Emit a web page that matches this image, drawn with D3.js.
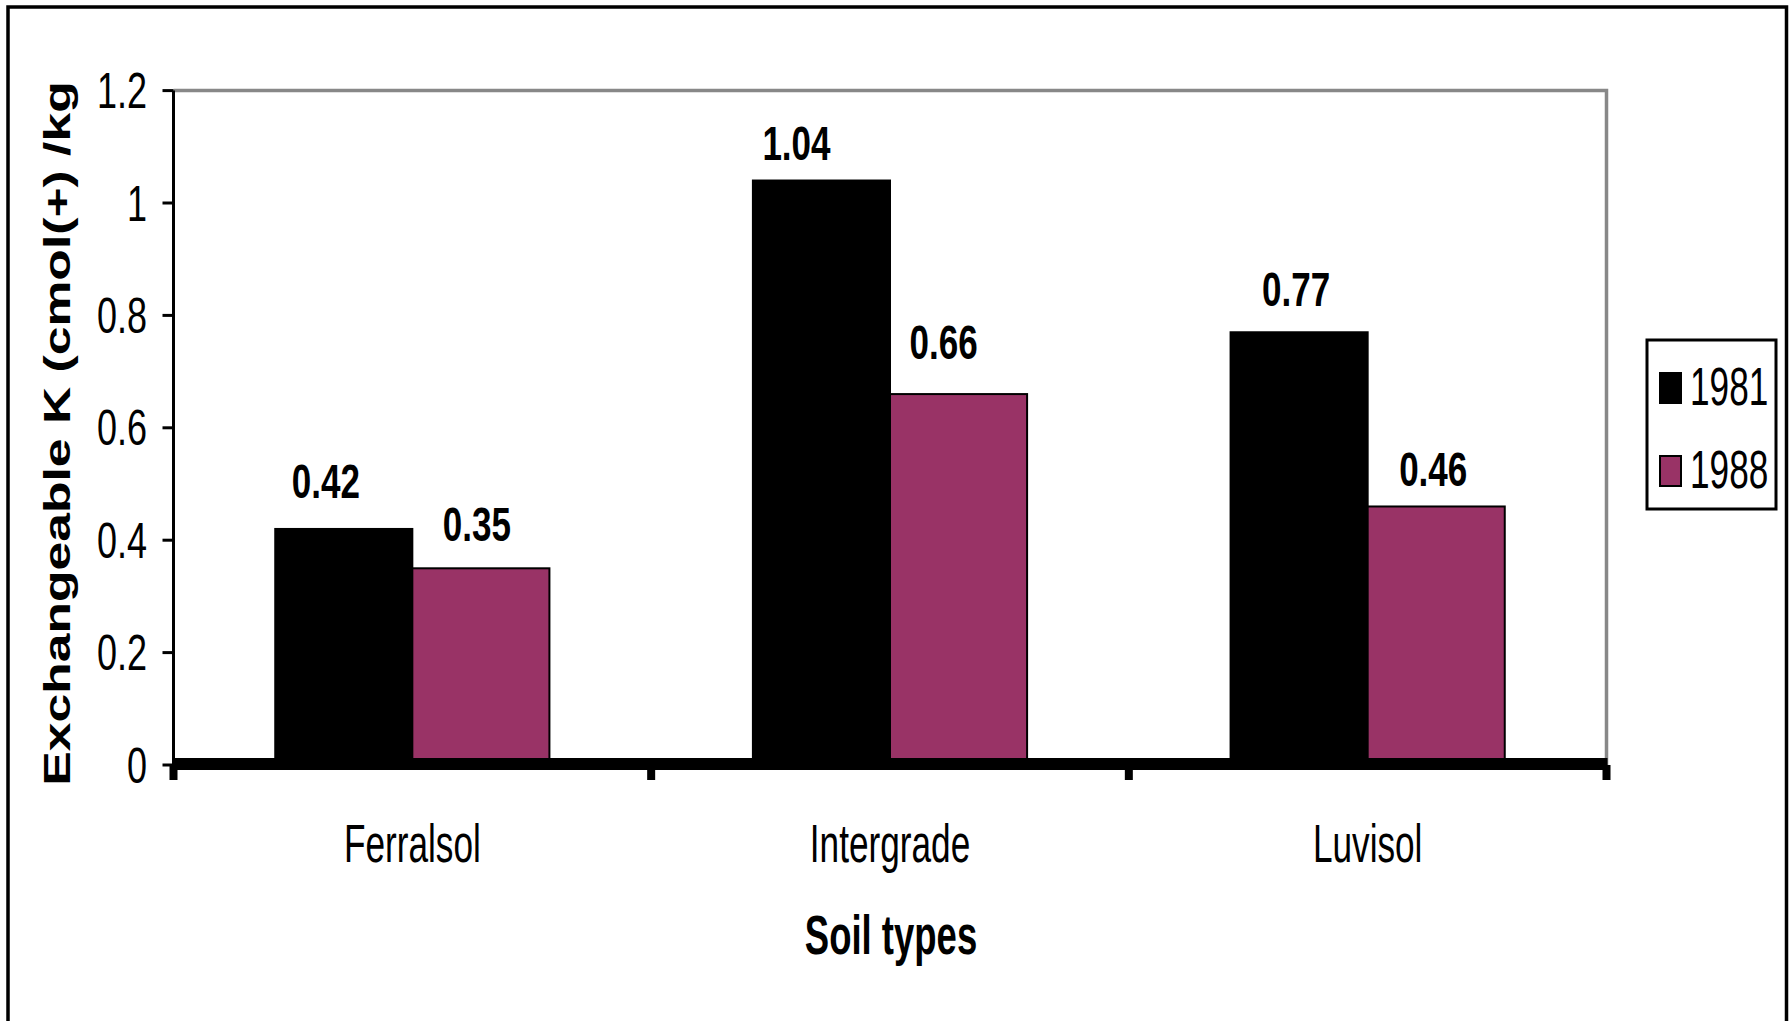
<!DOCTYPE html>
<html>
<head>
<meta charset="utf-8">
<script src="https://cdn.jsdelivr.net/npm/d3@7"></script>
<style>
  html, body { margin: 0; padding: 0; background: #fff; }
  svg { display: block; }
  text { font-family: "Liberation Sans", Arial, sans-serif; fill: #000; }
</style>
</head>
<body>
<svg id="chart" width="1790" height="1021"></svg>
<script>
// Exchangeable K by soil type, two survey years
const categories = ["Ferralsol", "Intergrade", "Luvisol"];
const seriesNames = ["1981", "1988"];
const values1981 = [0.42, 1.04, 0.77];
const values1988 = [0.35, 0.66, 0.46];
const yTickValues = [0, 0.2, 0.4, 0.6, 0.8, 1, 1.2];
const yTickLabels = ["0", "0.2", "0.4", "0.6", "0.8", "1", "1.2"];
const yTitle = "Exchangeable K (cmol(+) /kg";
const xTitle = "Soil types";

// label nudges [dx, gap above bar] per category, per series
const labelNudge = [
  [[-18, 31], [-4, 27]],
  [[-25, 21], [-15, 35]],
  [[-3, 26], [-3, 20]]
];

const colors = { "1981": "#000000", "1988": "#993366" };
const FS = 35.2;

const svg = d3.select("#chart");

const plot = { left: 173.5, right: 1606.5, top: 90.6, bottom: 765 };

const x0 = d3.scaleBand()
  .domain(categories)
  .range([plot.left, plot.right])
  .paddingInner(0.426)
  .paddingOuter(0.213);
const x1 = d3.scaleBand()
  .domain(seriesNames)
  .range([0, x0.bandwidth()])
  .padding(0);
const y = d3.scaleLinear().domain([0, 1.2]).range([plot.bottom, plot.top]);

const rows = categories.map((c, i) => ({
  cat: c, idx: i,
  vals: [
    { key: "1981", v: values1981[i] },
    { key: "1988", v: values1988[i] }
  ]
}));

// outer frame
svg.append("rect")
  .attr("x", 8).attr("y", 7)
  .attr("width", 1778.5).attr("height", 1040)
  .attr("fill", "none").attr("stroke", "#000").attr("stroke-width", 3.5);

// plot area top and right edges
svg.append("path")
  .attr("d", `M${plot.left},${y(1.2)}H${plot.right}V${plot.bottom}`)
  .attr("fill", "none").attr("stroke", "#888").attr("stroke-width", 3.5);

// bars
const groups = svg.selectAll("g.cat").data(rows).join("g")
  .attr("class", "cat")
  .attr("transform", d => `translate(${x0(d.cat)},0)`);

groups.selectAll("rect").data(d => d.vals).join("rect")
  .attr("x", d => x1(d.key))
  .attr("y", d => y(d.v))
  .attr("width", x1.bandwidth())
  .attr("height", d => y(0) - y(d.v))
  .attr("fill", d => colors[d.key])
  .attr("stroke", "#000").attr("stroke-width", 2);

// value labels
groups.selectAll("text.val").data(d => d.vals.map((s, j) => ({ ...s, n: labelNudge[d.idx][j] })))
  .join("text")
  .attr("class", "val")
  .attr("text-anchor", "middle")
  .attr("font-size", 35)
  .attr("font-weight", "bold")
  .attr("transform", d => `translate(${x1(d.key) + x1.bandwidth() / 2 + d.n[0]},${y(d.v) - d.n[1]}) scale(1,1.40)`)
  .text(d => d.v.toFixed(2));

// y axis line and ticks
svg.append("line")
  .attr("x1", plot.left).attr("x2", plot.left)
  .attr("y1", y(1.2)).attr("y2", plot.bottom)
  .attr("stroke", "#000").attr("stroke-width", 3);

svg.selectAll("line.ytick").data(yTickValues).join("line")
  .attr("class", "ytick")
  .attr("x1", plot.left - 11).attr("x2", plot.left)
  .attr("y1", d => y(d)).attr("y2", d => y(d))
  .attr("stroke", "#000").attr("stroke-width", 3);

svg.selectAll("text.ytl").data(yTickValues).join("text")
  .attr("class", "ytl")
  .attr("text-anchor", "end")
  .attr("font-size", 36)
  .attr("transform", d => `translate(147,${y(d) + 17.5}) scale(1,1.37)`)
  .text((d, i) => yTickLabels[i]);

// x axis: heavy baseline with category separators
svg.append("line")
  .attr("x1", plot.left - 1).attr("x2", plot.right + 1)
  .attr("y1", y(0) - 1).attr("y2", y(0) - 1)
  .attr("stroke", "#000").attr("stroke-width", 12);

const bounds = d3.range(categories.length + 1).map(i => plot.left + i * x0.step());
svg.selectAll("rect.xtick").data(bounds).join("rect")
  .attr("class", "xtick")
  .attr("x", d => d - 4).attr("y", y(0))
  .attr("width", 8).attr("height", 15)
  .attr("fill", "#000");

svg.selectAll("text.xtl").data(categories).join("text")
  .attr("class", "xtl")
  .attr("text-anchor", "middle")
  .attr("font-size", FS)
  .attr("transform", d => `translate(${x0(d) + x0.bandwidth() / 2},862) scale(1,1.5)`)
  .text(d => d);

// axis titles
svg.append("text")
  .attr("text-anchor", "middle")
  .attr("font-size", 36.5)
  .attr("font-weight", "bold")
  .attr("transform", `translate(${(x0(categories[1]) + x0.bandwidth() / 2 + 1)},954) scale(1,1.5)`)
  .text(xTitle);

svg.append("text")
  .attr("text-anchor", "middle")
  .attr("font-size", 37.7)
  .attr("font-weight", "bold")
  .attr("transform", "translate(70,433.5) rotate(-90) scale(1.37,1)")
  .text(yTitle);

// legend
const legend = svg.append("g").attr("transform", "translate(1647,340)");
legend.append("rect")
  .attr("width", 129).attr("height", 169)
  .attr("fill", "#fff").attr("stroke", "#000").attr("stroke-width", 3);

const items = legend.selectAll("g.item").data(seriesNames).join("g")
  .attr("class", "item")
  .attr("transform", (d, i) => `translate(0,${32 + i * 83})`);
items.append("rect")
  .attr("x", 13).attr("y", 1)
  .attr("width", 21).attr("height", 30)
  .attr("fill", d => colors[d])
  .attr("stroke", "#000").attr("stroke-width", 2);
items.append("text")
  .attr("font-size", FS)
  .attr("transform", "translate(43,33) scale(1,1.5)")
  .text(d => d);
</script>
</body>
</html>
